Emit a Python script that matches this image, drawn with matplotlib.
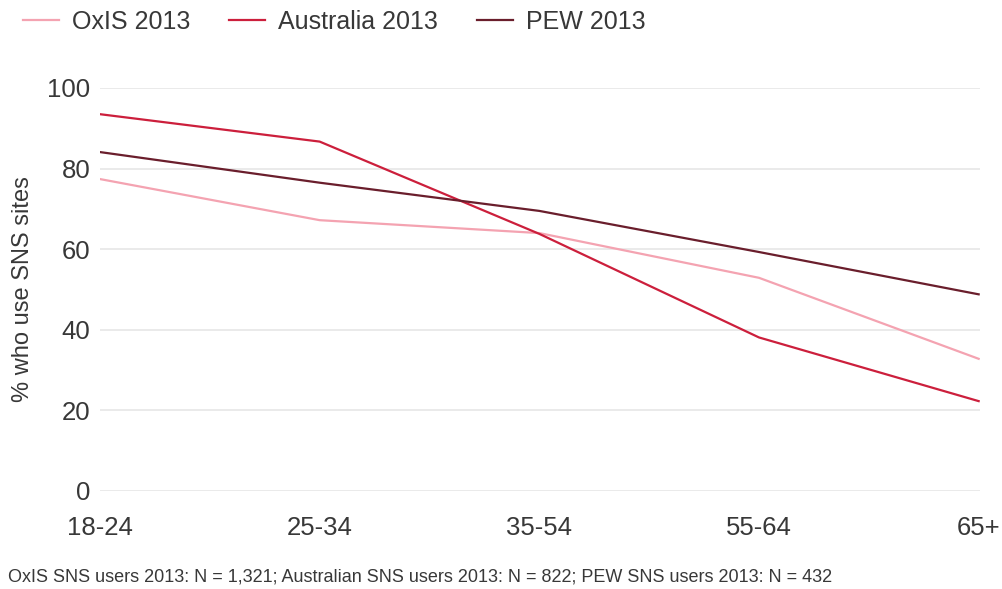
import numpy as np
import matplotlib.pyplot as plt

plt.rcParams['font.family'] = ['Liberation Sans', 'DejaVu Sans']

age_groups = ['18-24', '25-34', '35-54', '55-64', '65+']
oxis_2013 = [77.4, 67.2, 64.0, 52.9, 32.8]
australia_2013 = [93.5, 86.7, 63.8, 38.1, 22.3]
pew_2013 = [84.1, 76.5, 69.5, 59.3, 48.8]

footnote = ('OxIS SNS users 2013: N = 1,321; Australian SNS users 2013: N = 822; '
            'PEW SNS users 2013: N = 432')

txt = '#383838'
fig = plt.figure(figsize=(10.02, 5.89), dpi=100)
ax = fig.add_axes([0.0998, 0.1664, 0.878, 0.6842])

x = np.arange(len(age_groups))
ax.plot(x, oxis_2013, color='#f4a3b1', lw=1.6, label='OxIS 2013')
ax.plot(x, australia_2013, color='#cc1f3c', lw=1.6, label='Australia 2013')
ax.plot(x, pew_2013, color='#6a1e2c', lw=1.6, label='PEW 2013')

ax.set_xlim(0, 4.005)
ax.set_ylim(0, 100)
ax.set_xticks(x)
ax.set_xticklabels(age_groups)
ax.set_yticks([0, 20, 40, 60, 80, 100])
ax.tick_params(length=0, labelsize=18.5, colors=txt, pad=7)
ax.tick_params(axis='x', pad=18)
ax.grid(axis='y', color='#e6e6e6', lw=1.2)
ax.set_axisbelow(True)
for s in ax.spines.values():
    s.set_visible(False)
ax.set_ylabel('% who use SNS sites', fontsize=17, color=txt)
ax.yaxis.set_label_coords(-0.075, 0.5)

fig.legend(loc='upper left', bbox_to_anchor=(0.0, 1.021), ncol=3, frameon=False,
           fontsize=18, handlelength=1.45, handletextpad=0.52, columnspacing=1.55,
           labelcolor=txt)

fig.text(0.008, 0.012, footnote, fontsize=13, color=txt)

fig.savefig('out.png', dpi=100)
